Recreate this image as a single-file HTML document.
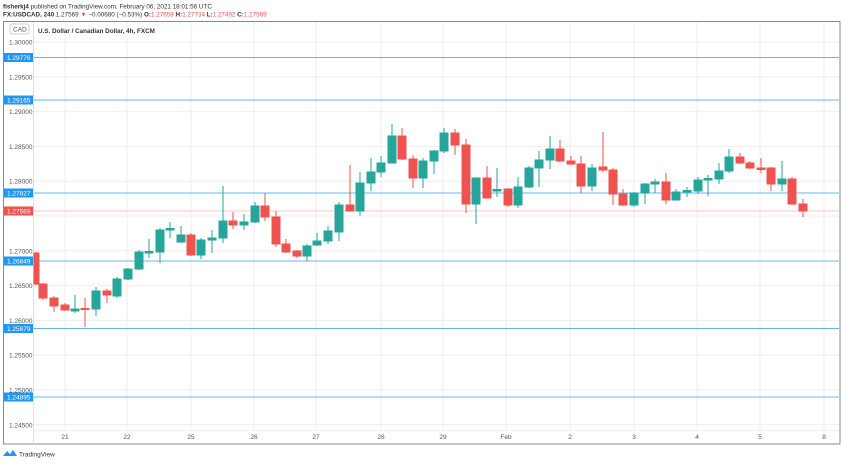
<!DOCTYPE html>
<html><head><meta charset="utf-8"><style>
body{margin:0;background:#fff;width:844px;height:463px;overflow:hidden;font-family:"Liberation Sans",sans-serif}
</style></head><body>
<svg width="844" height="463" viewBox="0 0 844 463" xmlns="http://www.w3.org/2000/svg" font-family="Liberation Sans, sans-serif">
<text x="3" y="8.5" font-size="6.3" fill="#333"><tspan font-weight="bold">fisherkj4</tspan> published on TradingView.com, February 06, 2021 18:01:56 UTC</text>
<text x="3" y="16.5" font-size="6.3" fill="#333"><tspan font-weight="bold">FX:USDCAD, 240</tspan> 1.27569 <tspan fill="#ef5350">▼</tspan> −0.00680 (−0.53%) <tspan font-weight="bold">O:</tspan><tspan fill="#ef5350">1.27658</tspan> <tspan font-weight="bold">H:</tspan><tspan fill="#ef5350">1.27734</tspan> <tspan font-weight="bold">L:</tspan><tspan fill="#ef5350">1.27492</tspan> <tspan font-weight="bold">C:</tspan><tspan fill="#ef5350">1.27569</tspan></text>
<rect x="3.5" y="21.5" width="836.5" height="422.5" fill="none" stroke="#888" stroke-width="1"/>
<g stroke="#eeeeee" stroke-width="1">
<line x1="34" x2="839" y1="42" y2="42"/><line x1="34" x2="839" y1="76.8" y2="76.8"/><line x1="34" x2="839" y1="111.6" y2="111.6"/><line x1="34" x2="839" y1="146.4" y2="146.4"/><line x1="34" x2="839" y1="181.2" y2="181.2"/><line x1="34" x2="839" y1="216" y2="216"/><line x1="34" x2="839" y1="250.8" y2="250.8"/><line x1="34" x2="839" y1="285.6" y2="285.6"/><line x1="34" x2="839" y1="320.4" y2="320.4"/><line x1="34" x2="839" y1="355.2" y2="355.2"/><line x1="34" x2="839" y1="390" y2="390"/><line x1="34" x2="839" y1="424.8" y2="424.8"/>
<line y1="22" y2="430" x1="65" x2="65"/><line y1="22" y2="430" x1="127" x2="127"/><line y1="22" y2="430" x1="191" x2="191"/><line y1="22" y2="430" x1="254" x2="254"/><line y1="22" y2="430" x1="316" x2="316"/><line y1="22" y2="430" x1="381" x2="381"/><line y1="22" y2="430" x1="443" x2="443"/><line y1="22" y2="430" x1="506" x2="506"/><line y1="22" y2="430" x1="570" x2="570"/><line y1="22" y2="430" x1="634" x2="634"/><line y1="22" y2="430" x1="697" x2="697"/><line y1="22" y2="430" x1="760" x2="760"/><line y1="22" y2="430" x1="824" x2="824"/>
<line x1="34" x2="839" y1="430.5" y2="430.5"/>
</g>
<line x1="33.5" x2="33.5" y1="22" y2="444" stroke="#ddd"/>
<g stroke="#64b5f6" stroke-width="1">
<line x1="34" x2="839" y1="57.5" y2="57.5"/><line x1="34" x2="839" y1="100" y2="100"/><line x1="34" x2="839" y1="193" y2="193"/><line x1="34" x2="839" y1="261" y2="261"/><line x1="34" x2="839" y1="328.5" y2="328.5"/><line x1="34" x2="839" y1="397" y2="397"/>
</g>
<line x1="34" x2="839" y1="211" y2="211" stroke="#f8c8c8" stroke-width="1"/>
<g font-size="6.5" fill="#555">
<rect x="10" y="24" width="19" height="10" rx="2" fill="#fff" stroke="#ccc"/><text x="13" y="31.5">CAD</text>
<text x="9" y="44.5">1.30000</text><text x="9" y="79.3">1.29500</text><text x="9" y="114.1">1.29000</text><text x="9" y="148.9">1.28500</text><text x="9" y="183.7">1.28000</text><text x="9" y="253.3">1.27000</text><text x="9" y="288.1">1.26500</text><text x="9" y="322.9">1.26000</text><text x="9" y="357.7">1.25500</text><text x="9" y="392.5">1.25000</text><text x="9" y="427.3">1.24500</text>
</g>
<g font-size="6.5" fill="#fff">
<rect x="4" y="53" width="29" height="9" fill="#2196f3"/><text x="7" y="60">1.29776</text>
<rect x="4" y="95.5" width="29" height="9" fill="#2196f3"/><text x="7" y="102.5">1.29165</text>
<rect x="4" y="188.5" width="29" height="9" fill="#2196f3"/><text x="7" y="195.5">1.27827</text>
<rect x="4" y="206.5" width="29" height="9" fill="#ef5350"/><text x="7" y="213.5">1.27569</text>
<rect x="4" y="256.5" width="29" height="9" fill="#2196f3"/><text x="7" y="263.5">1.26849</text>
<rect x="4" y="324" width="29" height="9" fill="#2196f3"/><text x="7" y="331">1.25879</text>
<rect x="4" y="392.5" width="29" height="9" fill="#2196f3"/><text x="7" y="399.5">1.24895</text>
</g>
<g font-size="6.5" fill="#555" text-anchor="middle">
<text x="65" y="439">21</text><text x="127" y="439">22</text><text x="191" y="439">25</text><text x="254" y="439">26</text><text x="316" y="439">27</text><text x="381" y="439">28</text><text x="443" y="439">29</text><text x="506" y="439">Feb</text><text x="570" y="439">2</text><text x="634" y="439">3</text><text x="697" y="439">4</text><text x="760" y="439">5</text><text x="824" y="439">8</text>
</g>
<text x="38" y="33" font-size="6.3" font-weight="bold" fill="#333">U.S. Dollar / Canadian Dollar, 4h, FXCM</text>
<g id="c">
<g stroke="#ef5350" fill="#ef5350">
<line x1="36" x2="36" y1="252" y2="285"/><rect x="34" y="253" width="5" height="31"/>
<line x1="43" x2="43" y1="283" y2="300"/><rect x="39" y="284" width="8" height="14"/>
<line x1="54" x2="54" y1="296" y2="312"/><rect x="50" y="298" width="8" height="8"/>
<line x1="65" x2="65" y1="303" y2="311"/><rect x="61" y="305" width="8" height="5"/>
<line x1="85" x2="85" y1="298" y2="327"/><rect x="81" y="308.5" width="8" height="1"/>
<line x1="107" x2="107" y1="289" y2="303"/><rect x="103" y="291" width="8" height="4"/>
<line x1="191" x2="191" y1="233" y2="256"/><rect x="187" y="235" width="8" height="20"/>
<line x1="233" x2="233" y1="212" y2="229"/><rect x="229" y="221" width="8" height="4"/>
<line x1="265" x2="265" y1="193" y2="221"/><rect x="261" y="206" width="8" height="11"/>
<line x1="276" x2="276" y1="211" y2="247"/><rect x="272" y="217" width="8" height="27"/>
<line x1="286" x2="286" y1="239" y2="253"/><rect x="282" y="244" width="8" height="8"/>
<line x1="297" x2="297" y1="250" y2="258"/><rect x="293" y="251" width="8" height="5"/>
<line x1="350" x2="350" y1="165" y2="211"/><rect x="346" y="205" width="8" height="6"/>
<line x1="402" x2="402" y1="128" y2="160"/><rect x="398" y="136" width="8" height="23"/>
<line x1="413" x2="413" y1="155" y2="188"/><rect x="409" y="159" width="8" height="19"/>
<line x1="455" x2="455" y1="129" y2="155"/><rect x="451" y="133" width="8" height="12"/>
<line x1="466" x2="466" y1="139" y2="213"/><rect x="462" y="145" width="8" height="59"/>
<line x1="487" x2="487" y1="166" y2="198"/><rect x="483" y="178" width="8" height="20"/>
<line x1="508" x2="508" y1="188" y2="207"/><rect x="504" y="189" width="8" height="16"/>
<line x1="560" x2="560" y1="140" y2="162"/><rect x="556" y="149" width="8" height="12"/>
<line x1="571" x2="571" y1="156" y2="165"/><rect x="567" y="161" width="8" height="3"/>
<line x1="581" x2="581" y1="156" y2="193"/><rect x="577" y="164" width="8" height="22"/>
<line x1="603" x2="603" y1="132" y2="172"/><rect x="599" y="167" width="8" height="3"/>
<line x1="613" x2="613" y1="168" y2="205"/><rect x="609" y="170" width="8" height="24"/>
<line x1="623" x2="623" y1="189" y2="206"/><rect x="619" y="194" width="8" height="11"/>
<line x1="666" x2="666" y1="173" y2="204"/><rect x="662" y="182" width="8" height="18"/>
<line x1="740" x2="740" y1="153" y2="164"/><rect x="736" y="157" width="8" height="6"/>
<line x1="750" x2="750" y1="161" y2="169"/><rect x="746" y="163" width="8" height="5"/>
<line x1="761" x2="761" y1="158" y2="173"/><rect x="757" y="168" width="8" height="1.5"/>
<line x1="771" x2="771" y1="167" y2="191"/><rect x="767" y="168" width="8" height="16"/>
<line x1="792" x2="792" y1="177" y2="205"/><rect x="788" y="179" width="8" height="25"/>
<line x1="803" x2="803" y1="199" y2="217"/><rect x="799" y="204" width="8" height="7"/>
</g>
<g stroke="#26a69a" fill="#26a69a">
<line x1="75" x2="75" y1="295" y2="313"/><rect x="71" y="309" width="8" height="2"/>
<line x1="96" x2="96" y1="287" y2="316"/><rect x="92" y="291" width="8" height="18"/>
<line x1="117" x2="117" y1="277" y2="298"/><rect x="113" y="279" width="8" height="17"/>
<line x1="128" x2="128" y1="268" y2="280"/><rect x="124" y="269" width="8" height="10"/>
<line x1="139" x2="139" y1="250" y2="270"/><rect x="135" y="252" width="8" height="17"/>
<line x1="149" x2="149" y1="239" y2="258"/><rect x="145" y="251.5" width="8" height="1.5"/>
<line x1="160" x2="160" y1="228" y2="263"/><rect x="156" y="230" width="8" height="22"/>
<line x1="170" x2="170" y1="222" y2="238"/><rect x="166" y="228.5" width="8" height="1.5"/>
<line x1="181" x2="181" y1="226" y2="243"/><rect x="177" y="235" width="8" height="7"/>
<line x1="201" x2="201" y1="238" y2="259"/><rect x="197" y="240" width="8" height="15"/>
<line x1="212" x2="212" y1="230" y2="253"/><rect x="208" y="238" width="8" height="2"/>
<line x1="223" x2="223" y1="186" y2="243"/><rect x="219" y="221" width="8" height="17"/>
<line x1="244" x2="244" y1="214" y2="230"/><rect x="240" y="222" width="8" height="3"/>
<line x1="255" x2="255" y1="202" y2="223"/><rect x="251" y="206" width="8" height="16"/>
<line x1="307" x2="307" y1="244" y2="261"/><rect x="303" y="246" width="8" height="10"/>
<line x1="317" x2="317" y1="233" y2="246"/><rect x="313" y="241" width="8" height="4"/>
<line x1="328" x2="328" y1="226" y2="244"/><rect x="324" y="231" width="8" height="10"/>
<line x1="339" x2="339" y1="202" y2="241"/><rect x="335" y="205" width="8" height="27"/>
<line x1="360" x2="360" y1="172" y2="216"/><rect x="356" y="183" width="8" height="28"/>
<line x1="371" x2="371" y1="158" y2="191"/><rect x="367" y="172" width="8" height="11"/>
<line x1="381" x2="381" y1="156" y2="177"/><rect x="377" y="163" width="8" height="9"/>
<line x1="392" x2="392" y1="124" y2="163"/><rect x="388" y="136" width="8" height="27"/>
<line x1="423" x2="423" y1="158" y2="188"/><rect x="419" y="161" width="8" height="17"/>
<line x1="434" x2="434" y1="150" y2="174"/><rect x="430" y="151" width="8" height="10"/>
<line x1="444" x2="444" y1="128" y2="153"/><rect x="440" y="133" width="8" height="18"/>
<line x1="476" x2="476" y1="178" y2="224"/><rect x="472" y="178" width="8" height="26"/>
<line x1="497" x2="497" y1="168" y2="197"/><rect x="493" y="189.5" width="8" height="1.5"/>
<line x1="518" x2="518" y1="177" y2="208"/><rect x="514" y="187" width="8" height="18"/>
<line x1="529" x2="529" y1="166" y2="188"/><rect x="525" y="168" width="8" height="19"/>
<line x1="539" x2="539" y1="151" y2="187"/><rect x="535" y="160" width="8" height="8"/>
<line x1="550" x2="550" y1="136" y2="169"/><rect x="546" y="149" width="8" height="11"/>
<line x1="592" x2="592" y1="164" y2="191"/><rect x="588" y="168" width="8" height="18"/>
<line x1="634" x2="634" y1="192" y2="207"/><rect x="630" y="193" width="8" height="12"/>
<line x1="645" x2="645" y1="183" y2="204"/><rect x="641" y="184" width="8" height="9"/>
<line x1="655" x2="655" y1="179" y2="193"/><rect x="651" y="182" width="8" height="2"/>
<line x1="676" x2="676" y1="189" y2="200"/><rect x="672" y="192" width="8" height="8"/>
<line x1="687" x2="687" y1="187" y2="197"/><rect x="683" y="190.5" width="8" height="1.5"/>
<line x1="698" x2="698" y1="177" y2="194"/><rect x="694" y="180" width="8" height="11"/>
<line x1="708" x2="708" y1="175" y2="196"/><rect x="704" y="178.5" width="8" height="1.5"/>
<line x1="719" x2="719" y1="163" y2="184"/><rect x="715" y="171" width="8" height="8"/>
<line x1="729" x2="729" y1="149" y2="173"/><rect x="725" y="157" width="8" height="14"/>
<line x1="782" x2="782" y1="161" y2="191"/><rect x="778" y="179" width="8" height="5"/>
</g>
</g>
<g transform="translate(3,449)">
<path d="M0 7 L4 2 L7 5 L10 1 L14 7 Z" fill="#2196f3"/>
<text x="16" y="7.5" font-size="6.5" fill="#333">TradingView</text>
</g>
</svg>
</body></html>
